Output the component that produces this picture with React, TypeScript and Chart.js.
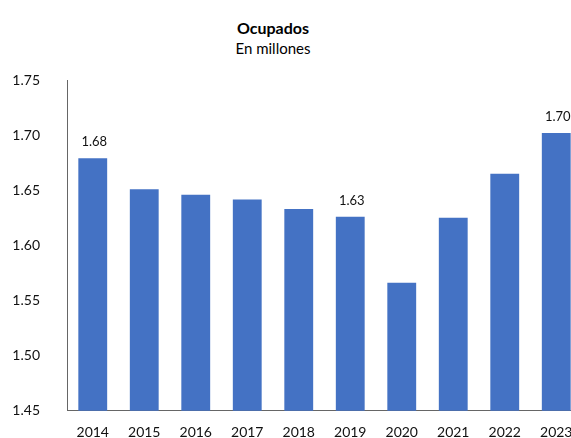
import React, { useEffect, useRef } from "react";
import { Chart, registerables } from "chart.js";

Chart.register(...registerables);

const years = ["2014", "2015", "2016", "2017", "2018", "2019", "2020", "2021", "2022", "2023"];
const ocupados = [1.679, 1.651, 1.646, 1.6415, 1.633, 1.626, 1.566, 1.625, 1.665, 1.702];
const labeledIndices = [0, 5, 9];
const yTicks = [1.45, 1.5, 1.55, 1.6, 1.65, 1.7, 1.75];
const titleText = "Ocupados";
const subtitleText = "En millones";

const FONT = "Lato, 'Noto Sans', sans-serif";

const valueLabels = {
  id: "valueLabels",
  afterDatasetsDraw(chart: any) {
    const ctx = chart.ctx;
    const meta = chart.getDatasetMeta(0);
    ctx.save();
    ctx.font = `13px ${FONT}`;
    ctx.fillStyle = "#111111";
    ctx.textAlign = "center";
    ctx.textBaseline = "middle";
    labeledIndices.forEach((i) => {
      const bar = meta.data[i];
      if (!bar) return;
      ctx.fillText(ocupados[i].toFixed(2), bar.x + 1.5, bar.y - 16);
    });
    ctx.restore();
  },
};

export default function App() {
  const ref = useRef<HTMLCanvasElement | null>(null);

  useEffect(() => {
    if (!ref.current) return;
    const chart = new Chart(ref.current, {
      type: "bar",
      data: {
        labels: years,
        datasets: [
          {
            data: ocupados,
            backgroundColor: "#4472C4",
            borderWidth: 0,
            barPercentage: 0.56,
            categoryPercentage: 1,
          },
        ],
      },
      options: {
        animation: false,
        responsive: false,
        maintainAspectRatio: false,
        layout: { padding: { top: 80, right: 8, left: 0, bottom: 0 } },
        plugins: {
          legend: { display: false },
          tooltip: { enabled: false },
          title: { display: false },
        },
        scales: {
          x: {
            grid: { display: false, drawTicks: false },
            border: { display: true, color: "#666666", width: 1 },
            ticks: {
              color: "#111111",
              font: { family: FONT, size: 14 },
              padding: 13,
              maxRotation: 0,
            },
            afterFit: (scale: any) => {
              scale.height = 27.3;
              scale.paddingLeft = 0;
              scale.paddingRight = 0;
            },
          },
          y: {
            min: 1.45,
            max: 1.75,
            grid: { display: false, drawTicks: false },
            border: { display: true, color: "#666666", width: 1 },
            afterBuildTicks: (scale: any) => {
              scale.ticks = yTicks.map((v) => ({ value: v }));
            },
            ticks: {
              color: "#111111",
              font: { family: FONT, size: 14 },
              padding: 27,
              callback: (v: any) => Number(v).toFixed(2),
            },
            afterFit: (scale: any) => {
              scale.width = 67;
              scale.paddingTop = 0;
              scale.paddingBottom = 0;
            },
          },
        },
      },
      plugins: [valueLabels],
    });
    return () => chart.destroy();
  }, []);

  return (
    <div style={{ position: "fixed", left: 0, top: 0, width: 571, height: 438, overflow: "hidden", background: "#fff" }}>
      <div
        style={{
          position: "absolute",
          left: 0,
          top: 18,
          width: 546,
          textAlign: "center",
          fontFamily: FONT,
          fontWeight: 700,
          fontSize: 16,
          lineHeight: "20px",
          color: "#000",
        }}
      >
        {titleText}
      </div>
      <div
        style={{
          position: "absolute",
          left: 0,
          top: 38,
          width: 546,
          textAlign: "center",
          fontFamily: FONT,
          fontSize: 15,
          lineHeight: "20px",
          color: "#000",
        }}
      >
        {subtitleText}
      </div>
      <canvas ref={ref} width={590} height={438} style={{ position: "absolute", left: 0, top: 0, width: 590, height: 438 }} />
    </div>
  );
}
